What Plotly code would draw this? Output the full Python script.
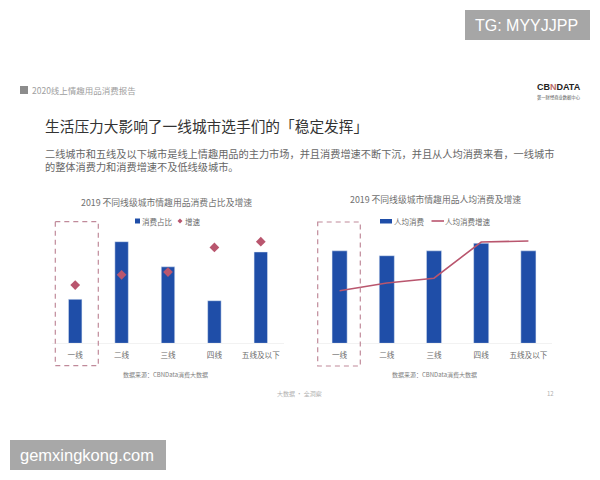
import plotly.graph_objects as go

# chart data
categories = ["一线", "二线", "三线", "四线", "五线及以下"]
share = [38.5, 89, 67, 37.3, 80]
share_growth = [51, 60, 62.4, 84, 89]
per_capita = [81, 76.7, 81, 87.6, 81]
per_capita_growth = [46, 52.8, 57, 88.7, 89.6]

BLUE = "#1f4ea8"
RED = "#b9566e"
GREY = "#6b6b6b"
FONT = "Noto Sans CJK SC"
LATIN = "Liberation Sans"

body_lines = [
    "二线城市和五线及以下城市是线上情趣用品的主力市场，并且消费增速不断下沉，并且从人均消费来看，一线城市",
    "的整体消费力和消费增速不及低线级城市。",
]

W, H = 600, 480


def px(x):
    return x / W


def py(y):
    return 1 - y / H


def label(x, y, text, size, color=GREY, anchor="left", family=FONT):
    # annotations carry about 2px of padding on the anchored side
    shift = {"left": -2, "right": 2, "center": 0}[anchor]
    return dict(x=px(x + shift), y=py(y), xref="paper", yref="paper", text=text, showarrow=False,
                xanchor=anchor, yanchor="middle", align=anchor,
                font=dict(size=size, color=color, family=family))


fig = go.Figure()

# left chart
fig.add_trace(go.Bar(x=categories, y=share, name="消费占比", marker_color=BLUE, width=0.29,
                     xaxis="x", yaxis="y"))
fig.add_trace(go.Scatter(x=categories, y=share_growth, name="增速", mode="markers",
                         marker=dict(symbol="diamond", size=7.5, color=RED), xaxis="x", yaxis="y"))
# right chart
fig.add_trace(go.Bar(x=categories, y=per_capita, name="人均消费", marker_color=BLUE, width=0.32,
                     xaxis="x2", yaxis="y2"))
fig.add_trace(go.Scatter(x=categories, y=per_capita_growth, name="人均消费增速", mode="lines",
                         line=dict(color=RED, width=1.6), xaxis="x2", yaxis="y2"))

axis_font = dict(size=7.6, color=GREY, family=FONT)
x_style = dict(showgrid=False, zeroline=False, showline=True, linecolor="#f2f2f2", linewidth=1,
               ticks="", tickfont=axis_font, ticklabelstandoff=5)
y_style = dict(visible=False, range=[0, 115], fixedrange=True)

fig.update_layout(
    width=W, height=H, autosize=False,
    margin=dict(l=0, r=0, t=0, b=0),
    paper_bgcolor="#ffffff", plot_bgcolor="#ffffff",
    showlegend=False,
    xaxis=dict(domain=[px(52), px(284)], anchor="y", **x_style),
    yaxis=dict(domain=[py(343.3), py(212)], **y_style),
    xaxis2=dict(domain=[px(316), px(552)], anchor="y2", **x_style),
    yaxis2=dict(domain=[py(343.3), py(212)], **y_style),
)

annotations = [
    label(32, 90, "2020线上情趣用品消费报告", 8.5, "#a0a0a0"),
    label(45, 126, "生活压力大影响了一线城市选手们的「稳定发挥」", 14.7, "#333333"),
    label(45, 159.7, "<br>".join(body_lines), 10.2, "#666666"),
    label(166, 203, "2019 不同线级城市情趣用品消费占比及增速", 8.8, "#707070", "center"),
    label(435, 199.5, "2019 不同线级城市情趣用品人均消费及增速", 8.8, "#707070", "center"),
    label(142, 221, "消费占比", 7.5),
    label(185, 221, "增速", 7.5),
    label(394, 221, "人均消费", 7.5),
    label(445, 221, "人均消费增速", 7.5),
    label(165, 374, "数据来源：CBNData消费大数据", 6, "#808080", "center"),
    label(434, 374, "数据来源：CBNData消费大数据", 6, "#808080", "center"),
    label(299, 393, "大数据 · 全洞察", 6, "#b0b0b0", "center"),
    label(554, 393, "12", 6, "#b0b0b0", "right"),
    label(537, 87, "<b>CB<span style='color:#b96a6a'>N</span>DATA</b>", 9, "#222222", family=LATIN),
    label(537, 97, "第一财经商业数据中心", 4.3, "#555555"),
    label(475, 25, "TG: MYYJJPP", 16, "#ffffff", family=LATIN),
    label(20, 455, "gemxingkong.com", 16.5, "#ffffff", family=LATIN),
]


def rect(x0, y0, x1, y1, **kw):
    return dict(type="rect", xref="paper", yref="paper", x0=px(x0), x1=px(x1),
                y0=py(y0), y1=py(y1), **kw)


box_line = dict(color="#c08a9a", width=1.2, dash="5px,4px")
shapes = [
    rect(20, 86, 28, 94, fillcolor="#8c8c8c", line_width=0),
    rect(465, 10, 590, 40, fillcolor="#a6a6a6", line_width=0, layer="below"),
    rect(10, 440, 166, 470, fillcolor="#a8a8a8", line_width=0, layer="below"),
    # dashed highlight boxes round the first category
    rect(55.3, 221.7, 98.3, 365.7, line=box_line),
    rect(317.7, 222, 360.3, 366, line=box_line),
    # legend keys
    rect(135, 218.5, 140, 223.5, fillcolor=BLUE, line_width=0),
    rect(380, 219, 392, 223.5, fillcolor=BLUE, line_width=0),
    dict(type="line", xref="paper", yref="paper", x0=px(431.5), x1=px(444), y0=py(221), y1=py(221),
         line=dict(color=RED, width=1.6)),
    dict(type="path", xref="paper", yref="paper", fillcolor=RED, line_width=0,
         path=f"M {px(180)} {py(218.5)} L {px(182.5)} {py(221)} L {px(180)} {py(223.5)} L {px(177.5)} {py(221)} Z"),
]
fig.update_layout(annotations=annotations, shapes=shapes)

fig.write_html("out.html", config=dict(displayModeBar=False),
               post_script="document.body.style.margin='0';")
